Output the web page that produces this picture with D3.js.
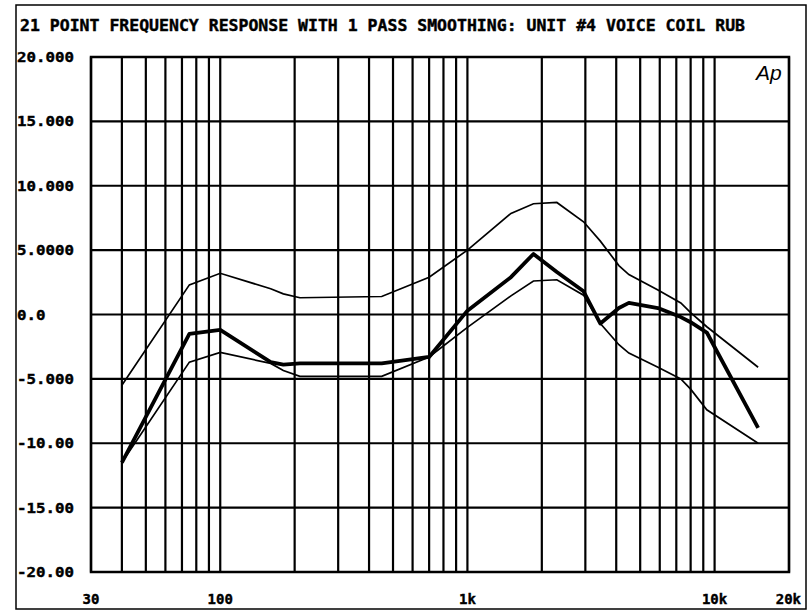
<!DOCTYPE html>
<html>
<head>
<meta charset="utf-8">
<script src="https://cdn.jsdelivr.net/npm/d3@7"></script>
<style>
  body { margin: 0; background: #fff; }
  text.lbl { font-family: "DejaVu Sans Mono", monospace; font-weight: bold; fill: #000; stroke: #000; stroke-width: 0.4; }
</style>
</head>
<body>
<svg width="811" height="612"></svg>
<script>
// data (Hz, dB)
const freqs = [40, 75, 100, 160, 180, 210, 450, 700, 1000, 1500, 1850, 2300, 2950, 3450, 4100, 4500, 5900, 7300, 8000, 9300, 15000];
const measured = [-11.5, -1.5, -1.2, -3.7, -3.9, -3.8, -3.8, -3.3, 0.3, 2.9, 4.7, 3.3, 1.8, -0.7, 0.5, 0.9, 0.5, -0.2, -0.6, -1.4, -8.8];
const upperLimit = [-5.5, 2.3, 3.2, 2.0, 1.6, 1.3, 1.4, 2.9, 5.0, 7.85, 8.6, 8.7, 7.2, 5.7, 3.8, 3.1, 1.9, 0.9, 0.15, -0.95, -4.1];
const lowerLimit = [-11.5, -3.7, -2.95, -3.8, -4.35, -4.8, -4.8, -3.3, -1.0, 1.45, 2.6, 2.7, 1.5, -0.7, -2.35, -3.0, -4.1, -5.0, -5.8, -7.4, -10.0];

const yTicks = [20, 15, 10, 5, 0, -5, -10, -15, -20];
const yLabels = ["20.000", "15.000", "10.000", "5.0000", "0.0", "-5.000", "-10.00", "-15.00", "-20.00"];
const xLabelFreqs = [30, 100, 1000, 10000, 20000];
const xLabels = ["30", "100", "1k", "10k", "20k"];
const title = "21 POINT FREQUENCY RESPONSE WITH 1 PASS SMOOTHING: UNIT #4 VOICE COIL RUB";

const svg = d3.select('svg');

const x = d3.scaleLog().domain([30, 20000]).range([91, 789]);
const y = d3.scaleLinear().domain([-20, 20]).range([572, 57]);

// outer frame
svg.append('rect')
  .attr('x', 16).attr('y', 5)
  .attr('width', 790).attr('height', 604)
  .attr('fill', 'none')
  .attr('stroke', '#000')
  .attr('stroke-width', 1.5);

svg.append('text')
  .attr('class', 'lbl')
  .attr('x', 20).attr('y', 31)
  .attr('font-size', 15)
  .attr('textLength', 725)
  .attr('lengthAdjust', 'spacingAndGlyphs')
  .text(title);

// vertical grid
svg.append('g')
  .selectAll('line')
  .data(x.ticks())
  .join('line')
  .attr('x1', d => x(d)).attr('x2', d => x(d))
  .attr('y1', y(20)).attr('y2', y(-20))
  .attr('stroke', '#000')
  .attr('stroke-width', 2.2);

// horizontal grid
svg.append('g')
  .selectAll('line')
  .data(yTicks)
  .join('line')
  .attr('x1', x(30)).attr('x2', x(20000))
  .attr('y1', d => y(d)).attr('y2', d => y(d))
  .attr('stroke', '#000')
  .attr('stroke-width', 2.2);

// plot border
svg.append('rect')
  .attr('x', x(30)).attr('y', y(20))
  .attr('width', x(20000) - x(30))
  .attr('height', y(-20) - y(20))
  .attr('fill', 'none')
  .attr('stroke', '#000')
  .attr('stroke-width', 2.5);

// y labels
svg.append('g')
  .selectAll('text')
  .data(yTicks)
  .join('text')
  .attr('class', 'lbl')
  .attr('x', 17)
  .attr('y', d => y(d) + 5)
  .attr('font-size', 14)
  .attr('textLength', (d, i) => yLabels[i].length * 9.5)
  .attr('lengthAdjust', 'spacingAndGlyphs')
  .text((d, i) => yLabels[i]);

// x labels
svg.append('g')
  .selectAll('text')
  .data(xLabelFreqs)
  .join('text')
  .attr('class', 'lbl')
  .attr('x', d => x(d))
  .attr('y', 604)
  .attr('font-size', 14)
  .attr('text-anchor', (d, i) => i === xLabels.length - 1 ? 'end' : 'middle')
  .attr('dx', (d, i) => i === xLabels.length - 1 ? 12 : 0)
  .text((d, i) => xLabels[i]);

// curves
const line = d3.line()
  .x((d, i) => x(freqs[i]))
  .y(d => y(d));

svg.append('path')
  .attr('d', line(upperLimit))
  .attr('fill', 'none')
  .attr('stroke', '#000')
  .attr('stroke-width', 1.7);

svg.append('path')
  .attr('d', line(lowerLimit))
  .attr('fill', 'none')
  .attr('stroke', '#000')
  .attr('stroke-width', 1.7);

svg.append('path')
  .attr('d', line(measured))
  .attr('fill', 'none')
  .attr('stroke', '#000')
  .attr('stroke-width', 3.8)
  .attr('stroke-linejoin', 'round');

// Ap logo
svg.append('text')
  .attr('x', 756).attr('y', 80)
  .style('font-family', '"Liberation Sans", sans-serif')
  .style('font-weight', 'normal')
  .style('font-style', 'italic')
  .style('font-size', '21px')
  .style('fill', '#000')
  .text('Ap');
</script>
</body>
</html>
